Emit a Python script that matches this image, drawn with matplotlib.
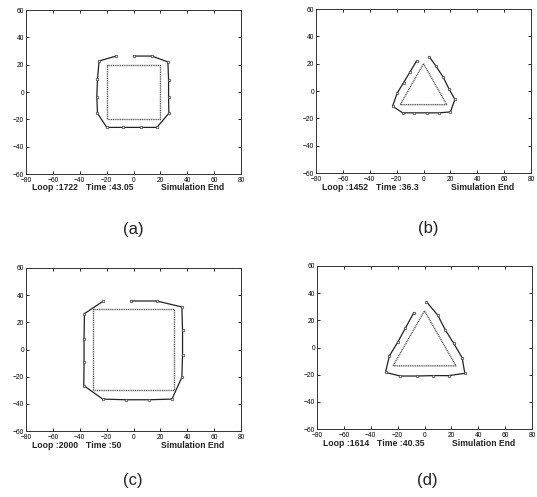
import matplotlib.pyplot as plt

plt.rcParams['font.family'] = ['Liberation Sans', 'DejaVu Sans']

# inner reference shapes (closed)
sq_a_x = [-20, 20, 20, -20, -20]
sq_a_y = [20, 20, -20, -20, 20]
tri_b_x = [0, 17.3, -17.3, 0]
tri_b_y = [20, -10, -10, 20]
sq_c_x = [-30, 30, 30, -30, -30]
sq_c_y = [30, 30, -30, -30, 30]
tri_d_x = [0, 23.4, -23.4, 0]
tri_d_y = [27, -13.5, -13.5, 27]

# robot paths
path_a_x = [-13, -25.6, -26.8, -27.3, -26.8, -19.9, -7.5, 5.5, 17.4, 26.3, 26.1, 26.1, 25.6, 13.7, 0]
path_a_y = [26.3, 22.7, 9.5, -3.4, -15.6, -25.9, -25.9, -25.9, -25.9, -15.6, -3.4, 8.8, 22, 26.3, 26.3]
path_b_x = [-5.1, -10, -14.8, -19.7, -23, -15.5, -6.8, 2.4, 11.3, 20, 23.4, 19.2, 14.8, 9.3, 4.3]
path_b_y = [22.1, 14, 6.2, -1.8, -11.1, -16, -16, -16, -16, -15.3, -6.2, 1.1, 9.9, 18.2, 25.1]
path_c_x = [-22.4, -36.5, -36.8, -36.8, -37, -22.9, -5.5, 11.7, 28.6, 36, 36.5, 36.5, 36, 17.4, -1.7]
path_c_y = [35.7, 26.4, 7.9, -9.4, -26.6, -36.5, -37, -37, -36.5, -20.4, -3.7, 14, 31.3, 35.7, 35.7]
path_d_x = [-8, -14.3, -19.7, -26.2, -29, -18, -5.6, 6.3, 18, 30, 28, 21.7, 15.5, 9.8, 1.4]
path_d_y = [25.6, 14.1, 4.3, -6.3, -18.3, -21, -21, -20.7, -20.7, -19, -7.5, 3.1, 12.9, 23.9, 33.7]

loops = ['1722', '1452', '2000', '1614']
times = ['43.05', '36.3', '50', '40.35']
tags = ['(a)', '(b)', '(c)', '(d)']

W, H = 537, 497
# axes boxes in pixels: left, top, right, bottom
boxes = [(26, 10, 241, 174), (316, 9, 531, 173), (26, 268, 241, 431), (317, 266, 532, 429)]
tag_pos = [(133, 230), (428, 229), (133, 480), (427, 480)]

shapes = [(sq_a_x, sq_a_y), (tri_b_x, tri_b_y), (sq_c_x, sq_c_y), (tri_d_x, tri_d_y)]
paths = [(path_a_x, path_a_y), (path_b_x, path_b_y), (path_c_x, path_c_y), (path_d_x, path_d_y)]

fig = plt.figure(figsize=(W / 100, H / 100), dpi=100)

for i in range(4):
    l, t, r, b = boxes[i]
    ax = fig.add_axes([l / W, 1 - b / H, (r - l) / W, (b - t) / H])
    ax.plot(shapes[i][0], shapes[i][1], color='#555555', lw=1.0, ls=(0, (0.8, 0.5)))
    ax.plot(paths[i][0], paths[i][1], color='#222222', lw=0.9, marker='o', ms=1.8,
            mfc='white', mec='#333333', mew=0.5)
    ax.set_xlim(-80, 80)
    ax.set_ylim(-60, 60)
    ax.set_xticks(range(-80, 81, 20))
    ax.set_yticks(range(-60, 61, 20))
    ax.tick_params(direction='in', length=2, width=0.6, labelsize=4.8, top=True, right=True)
    ax.tick_params(axis='x', pad=2.5)
    ax.tick_params(axis='y', pad=1.5)
    for s in ax.spines.values():
        s.set_linewidth(0.7)
        s.set_color('#333333')

    y_txt = 1 - (b + 14) / H
    fig.text((l + 6) / W, y_txt, 'Loop :' + loops[i], fontsize=6.2, weight='bold',
             color='#222222', va='center')
    fig.text((l + 60) / W, y_txt, 'Time :' + times[i], fontsize=6.2, weight='bold',
             color='#222222', va='center')
    fig.text((l + 135) / W, y_txt, 'Simulation End', fontsize=6.2, weight='bold',
             color='#222222', va='center')
    fig.text(tag_pos[i][0] / W, 1 - tag_pos[i][1] / H, tags[i], fontsize=12,
             ha='center', va='center', color='#222222')

fig.savefig('out.png', dpi=100)
